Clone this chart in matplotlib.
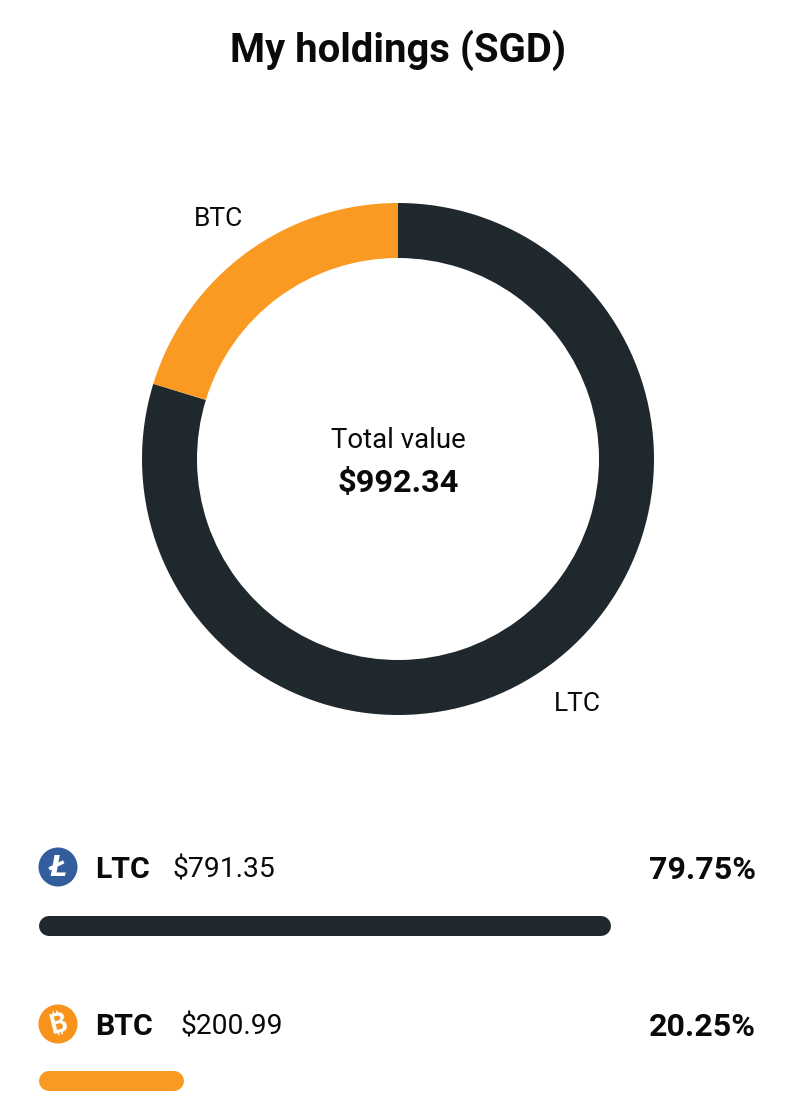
import matplotlib
matplotlib.use('Agg')
import matplotlib.pyplot as plt
import matplotlib.patches as patches

plt.rcParams['font.family'] = ['Roboto', 'DejaVu Sans']

# Dados
moedas = ['LTC', 'BTC']
valores = [791.35, 200.99]
percentuais = [79.75, 20.25]
total = 992.34
cores = ['#1f282d', '#fb9a22']
cores_icone = ['#345d9d', '#f7931a']
simbolos = ['Ł', '₿']
cor_texto = '#0a0a0a'

W, H = 796, 1114
fig = plt.figure(figsize=(W / 100, H / 100), dpi=100)
fig.patch.set_facecolor('white')

# Camada de fundo em pixels
fundo = fig.add_axes([0, 0, 1, 1])
fundo.set_xlim(0, W)
fundo.set_ylim(H, 0)
fundo.axis('off')

fundo.text(398, 50, 'My holdings (SGD)', ha='center', va='center',
           fontsize=28.8, fontweight='bold', color=cor_texto)

# Donut
cx, cy, r = 398, 459, 256
lado = 2 * 1.25 * r
ax_pie = fig.add_axes([(cx - lado / 2) / W, (H - cy - lado / 2) / H,
                       lado / W, lado / H])
ax_pie.pie(valores, labels=moedas, colors=cores, startangle=90,
           counterclock=False, radius=1, labeldistance=1.18,
           wedgeprops=dict(width=55 / 256, linewidth=0),
           textprops=dict(fontsize=19, color=cor_texto))
for t in ax_pie.texts:
    t.set_ha('center')
    t.set_va('center_baseline')
ax_pie.set_xlim(-1.25, 1.25)
ax_pie.set_ylim(-1.25, 1.25)
ax_pie.set_aspect('equal')
ax_pie.text(0, 22 / 256, 'Total value', ha='center', va='center_baseline',
            fontsize=19.8, color=cor_texto)
ax_pie.text(0, -21 / 256, f'${total:,.2f}', ha='center', va='center_baseline',
            fontsize=23.4, fontweight='bold', color=cor_texto)

# Linhas da lista
linhas_y = [867, 1024]
barras_y = [926, 1081]
fam_icone = ['Inter', 'Noto Sans', 'Lato', 'Open Sans', 'Liberation Sans', 'DejaVu Sans']
for i, moeda in enumerate(moedas):
    y = linhas_y[i]
    icone = patches.Circle((58, y), 19.5, facecolor=cores_icone[i],
                           edgecolor='none')
    fundo.add_patch(icone)
    fundo.text(58, y + 1, simbolos[i], ha='center', va='center',
               fontsize=20 if i == 0 else 19, fontweight='bold', color='white',
               family=['DejaVu Sans'] if i == 0 else fam_icone,
               style='italic' if i == 0 else 'normal',
               rotation=0 if i == 0 else 14)
    fundo.text(95, y, moeda, ha='left', va='center_baseline', fontsize=21.8,
               fontweight='bold', color=cor_texto)
    fundo.text(173 + 7 * i, y, f'${valores[i]:,.2f}', ha='left',
               va='center_baseline', fontsize=20.3, color=cor_texto)
    fundo.text(756, y, f'{percentuais[i]:.2f}%', ha='right',
               va='center_baseline', fontsize=23.1, fontweight='bold',
               color=cor_texto)

# Barras de progresso
x0, x1 = 39, 756
ax_bar = fig.add_axes([x0 / W, 0, (x1 - x0) / W, 1])
ax_bar.set_xlim(0, 100)
ax_bar.set_ylim(H, 0)
ax_bar.axis('off')
raio = 10 / (x1 - x0) * 100
for i in range(len(moedas)):
    ax_bar.plot([raio, percentuais[i] - raio], [barras_y[i], barras_y[i]],
                color=cores[i], linewidth=20 * 0.72, solid_capstyle='round')

fig.savefig('out.png', dpi=100, facecolor='white')
